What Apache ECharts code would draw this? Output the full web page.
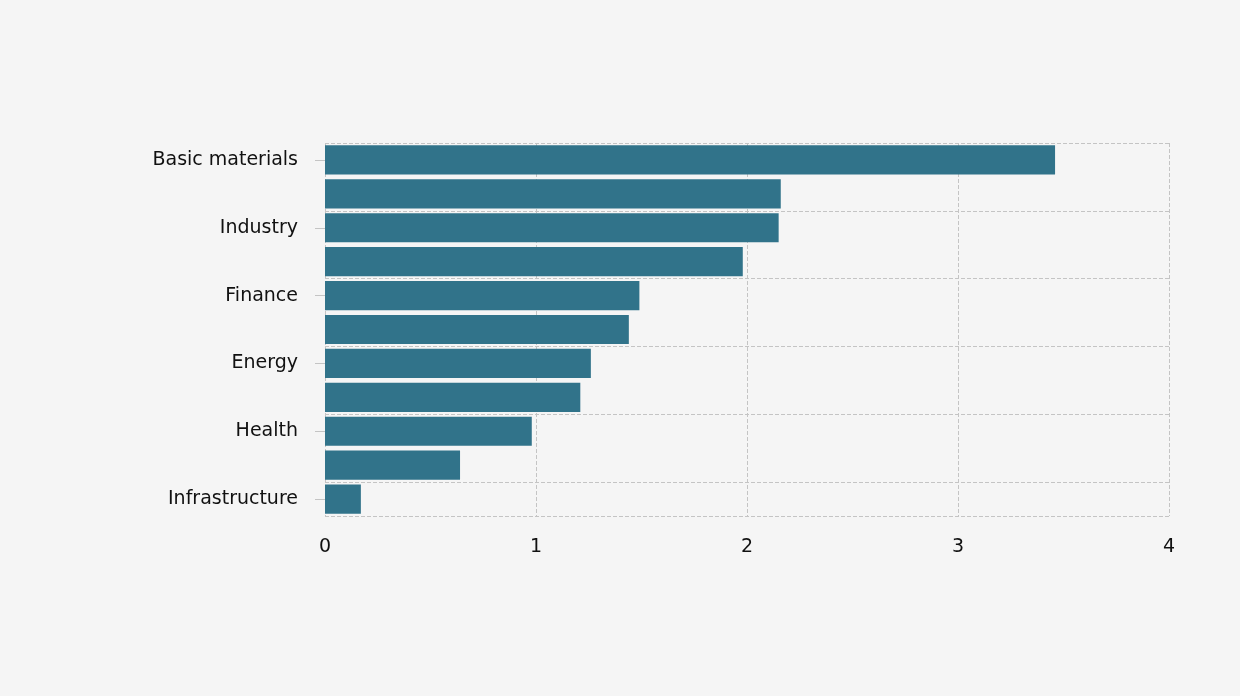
<!DOCTYPE html>
<html>
<head>
<meta charset="utf-8">
<script src="https://cdn.jsdelivr.net/npm/echarts@6/dist/echarts.min.js"></script>
<style>html,body{margin:0;padding:0;background:#f5f5f5;}#chart{width:1240px;height:696px;}</style>
</head>
<body>
<div id="chart"></div>
<script>
const sectors = ["Basic materials", "Technology", "Industry", "Consumer goods", "Finance", "Telecom", "Energy", "Real estate", "Health", "Utilities", "Infrastructure"];
const values = [3.46, 2.16, 2.15, 1.98, 1.49, 1.44, 1.26, 1.21, 0.98, 0.64, 0.17];

const chart = echarts.init(document.getElementById("chart"));
chart.setOption({
  backgroundColor: "#f5f5f5",
  grid: { left: 325, right: 71, top: 143, bottom: 180 },
  xAxis: {
    type: "value", min: 0, max: 4, interval: 1,
    axisLine: { show: false }, axisTick: { show: false },
    axisLabel: { color: "#111", fontSize: 19, fontFamily: "DejaVu Sans", margin: 22 },
    splitLine: { lineStyle: { type: "dashed", color: "#c4c4c4" } }
  },
  yAxis: {
    type: "category", data: sectors, inverse: true,
    axisLine: { show: false },
    axisTick: { show: true, interval: 1, alignWithLabel: true, length: 10, lineStyle: { color: "#c4c4c4" } },
    axisLabel: { interval: 1, color: "#111", fontSize: 19, fontFamily: "DejaVu Sans", margin: 27 },
    splitLine: { show: true, interval: 1, lineStyle: { type: "dashed", color: "#c4c4c4" } }
  },
  series: [{
    type: "bar", data: values, barCategoryGap: "14%",
    itemStyle: { color: "#31738a" }
  }]
});
</script>
</body>
</html>
